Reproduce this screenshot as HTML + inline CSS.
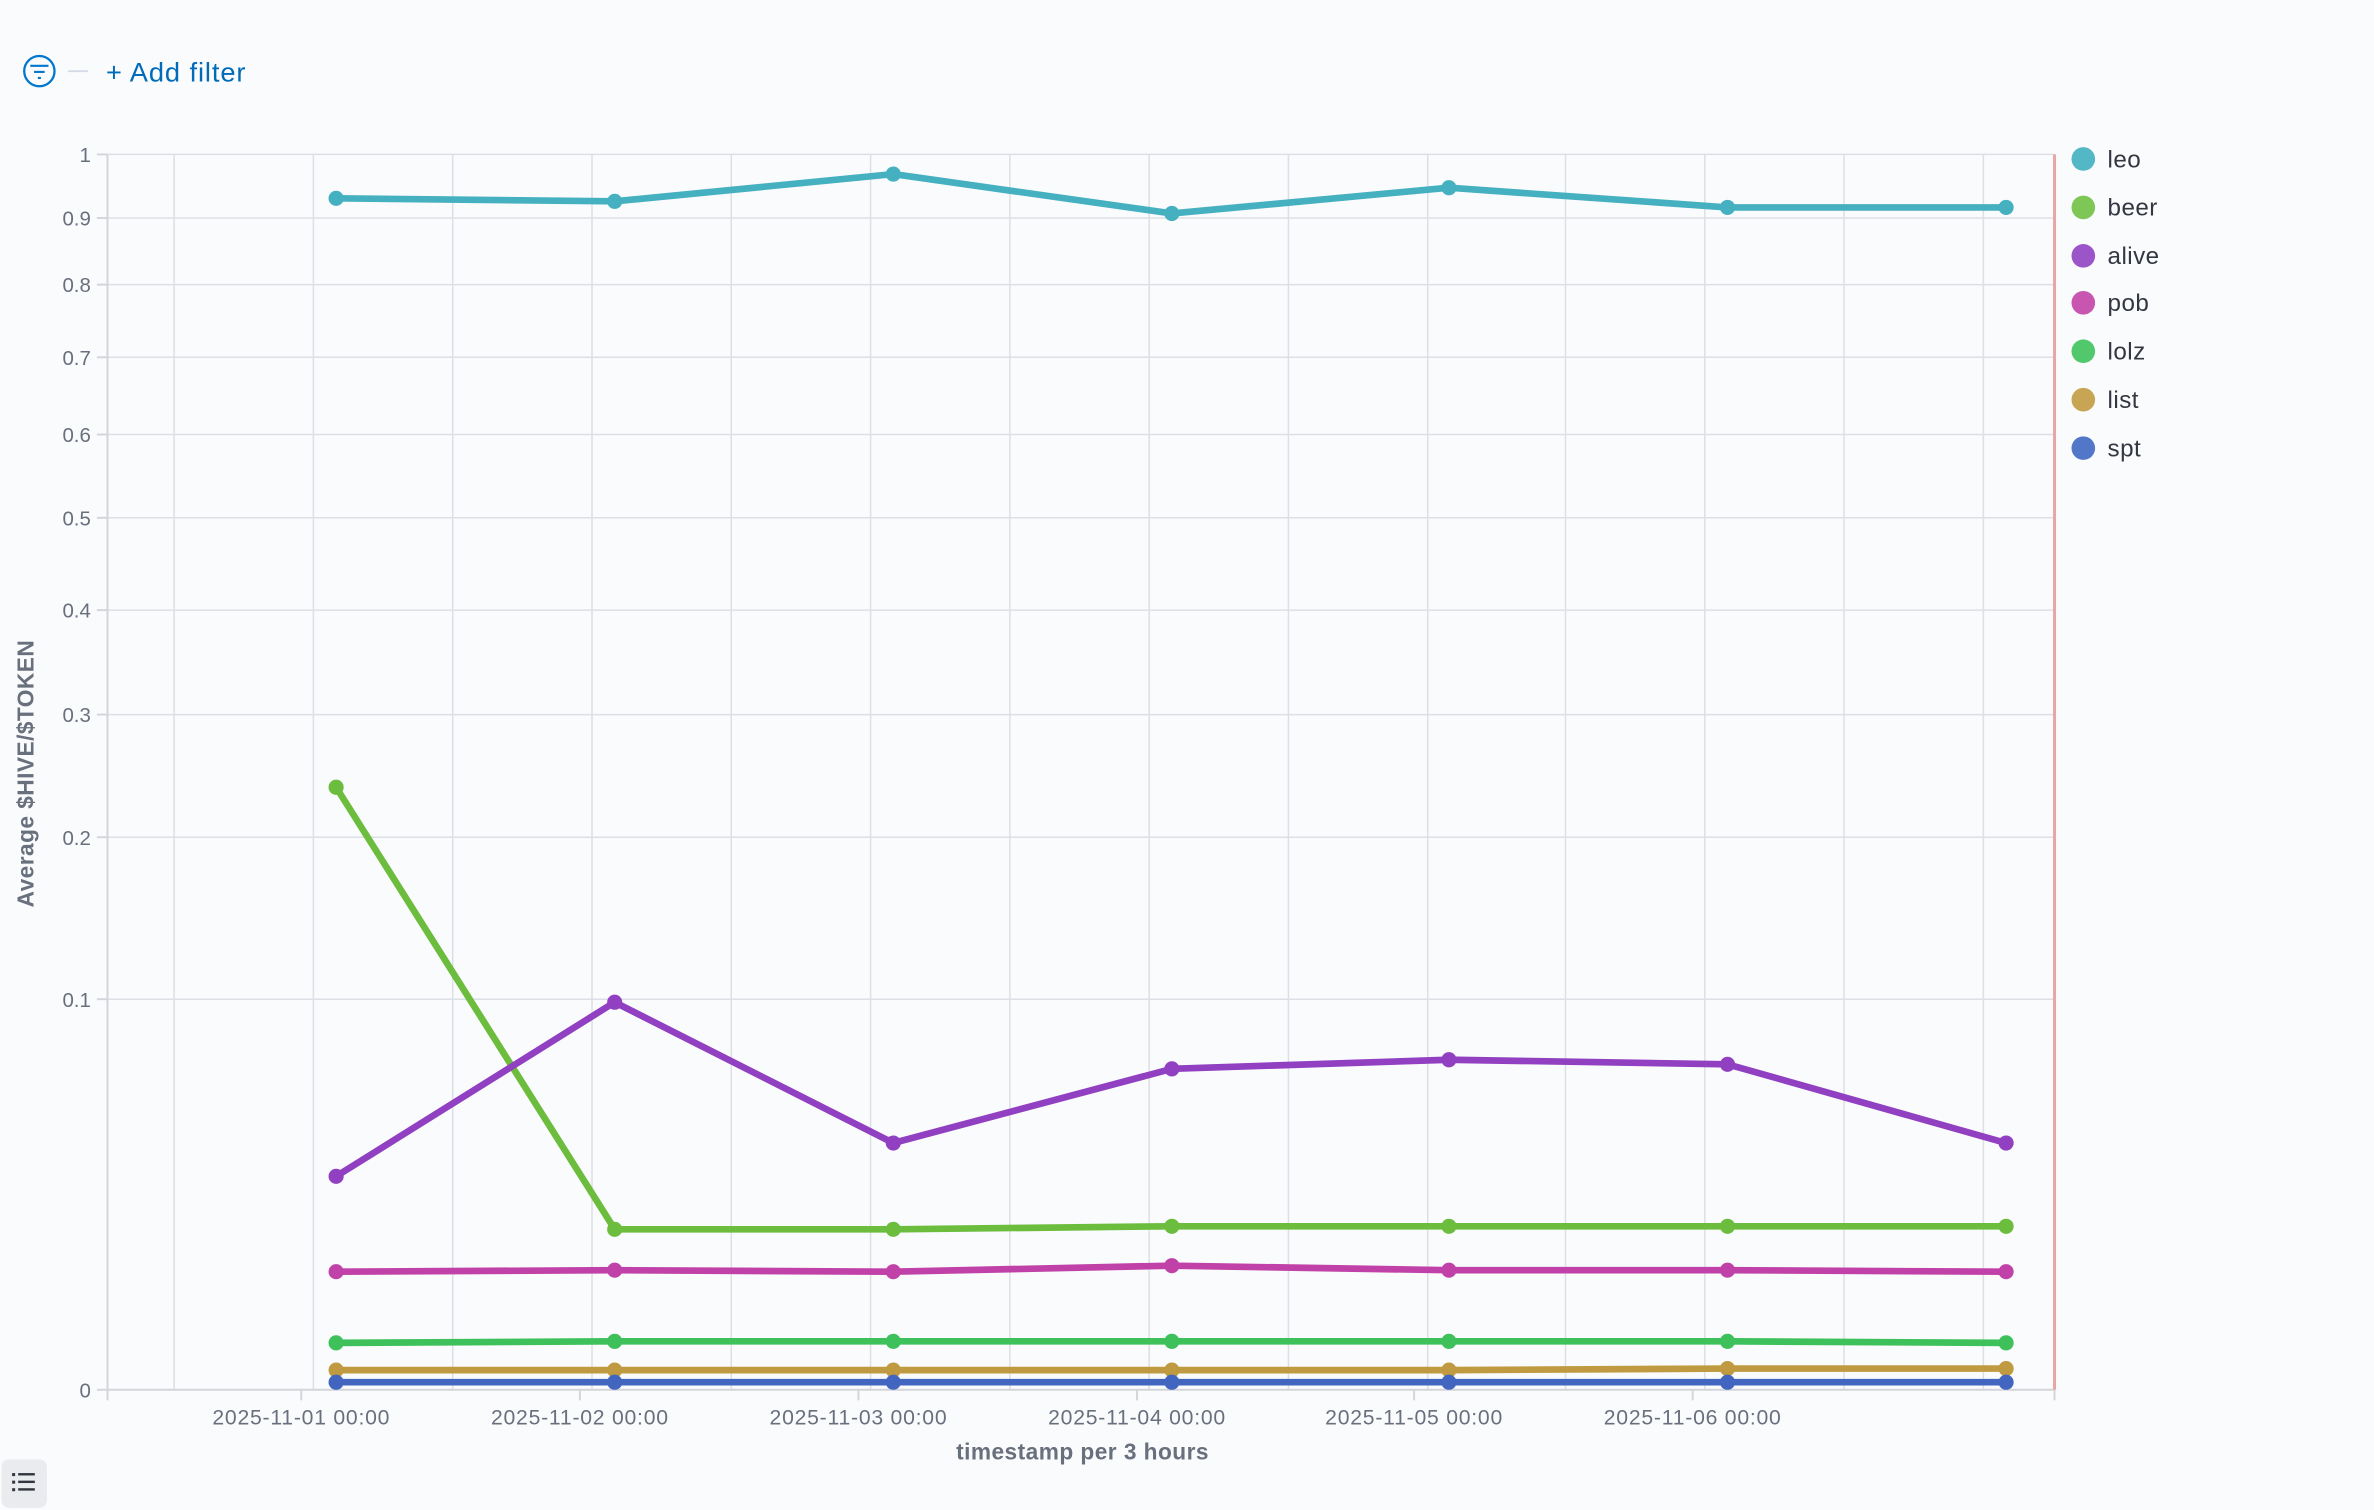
<!DOCTYPE html>
<html><head><meta charset="utf-8"><style>
html,body{margin:0;padding:0;background:#fafbfd;width:2374px;height:1510px;overflow:hidden}
svg{display:block}
text{font-family:"Liberation Sans",sans-serif}
</style></head><body>
<svg width="2374" height="1510" viewBox="0 0 1568 997.4" preserveAspectRatio="none">
<rect width="1568" height="998" fill="#fafbfd"/>
<!-- filter bar -->
<circle cx="26" cy="47" r="10" fill="none" stroke="#0077cc" stroke-width="1.5"/>
<line x1="20" y1="43.5" x2="32" y2="43.5" stroke="#0077cc" stroke-width="1.4"/>
<line x1="22.5" y1="47.5" x2="29.5" y2="47.5" stroke="#0077cc" stroke-width="1.4"/>
<line x1="25" y1="51.5" x2="27" y2="51.5" stroke="#0077cc" stroke-width="1.4"/>
<line x1="45" y1="47" x2="58" y2="47" stroke="#d3dae6" stroke-width="1.2"/>
<text x="70" y="54" font-size="18" letter-spacing="0.6" fill="#006bb8">+ Add filter</text>
<!-- grid -->
<g stroke="#dcdfe5" stroke-width="1">
<line x1="71" y1="102" x2="1357" y2="102"/>
<line x1="71" y1="144" x2="1357" y2="144"/>
<line x1="71" y1="188" x2="1357" y2="188"/>
<line x1="71" y1="236" x2="1357" y2="236"/>
<line x1="71" y1="287" x2="1357" y2="287"/>
<line x1="71" y1="342" x2="1357" y2="342"/>
<line x1="71" y1="403" x2="1357" y2="403"/>
<line x1="71" y1="472" x2="1357" y2="472"/>
<line x1="71" y1="553" x2="1357" y2="553"/>
<line x1="71" y1="660" x2="1357" y2="660"/>
<line x1="115" y1="102" x2="115" y2="918"/>
<line x1="207" y1="102" x2="207" y2="918"/>
<line x1="299" y1="102" x2="299" y2="918"/>
<line x1="391" y1="102" x2="391" y2="918"/>
<line x1="483" y1="102" x2="483" y2="918"/>
<line x1="575" y1="102" x2="575" y2="918"/>
<line x1="667" y1="102" x2="667" y2="918"/>
<line x1="759" y1="102" x2="759" y2="918"/>
<line x1="851" y1="102" x2="851" y2="918"/>
<line x1="943" y1="102" x2="943" y2="918"/>
<line x1="1034" y1="102" x2="1034" y2="918"/>
<line x1="1126" y1="102" x2="1126" y2="918"/>
<line x1="1218" y1="102" x2="1218" y2="918"/>
<line x1="1310" y1="102" x2="1310" y2="918"/>
</g>
<g stroke="#d3d5da" stroke-width="1.3">
<line x1="71" y1="102" x2="71" y2="925"/>
<line x1="64" y1="918" x2="1357" y2="918"/>
<line x1="199" y1="918" x2="199" y2="925"/>
<line x1="383" y1="918" x2="383" y2="925"/>
<line x1="567" y1="918" x2="567" y2="925"/>
<line x1="751" y1="918" x2="751" y2="925"/>
<line x1="934" y1="918" x2="934" y2="925"/>
<line x1="1118" y1="918" x2="1118" y2="925"/>
<line x1="1357" y1="918" x2="1357" y2="925"/>
<line x1="64" y1="102" x2="71" y2="102"/><line x1="64" y1="144" x2="71" y2="144"/><line x1="64" y1="188" x2="71" y2="188"/><line x1="64" y1="236" x2="71" y2="236"/><line x1="64" y1="287" x2="71" y2="287"/><line x1="64" y1="342" x2="71" y2="342"/><line x1="64" y1="403" x2="71" y2="403"/><line x1="64" y1="472" x2="71" y2="472"/><line x1="64" y1="553" x2="71" y2="553"/><line x1="64" y1="660" x2="71" y2="660"/>
</g>
<line x1="1357" y1="102" x2="1357" y2="918" stroke="#e7a6a6" stroke-width="2"/>
<!-- y labels -->
<g font-size="13.5" fill="#69707d" text-anchor="end">
<text x="60" y="107">1</text><text x="60" y="149">0.9</text><text x="60" y="193">0.8</text><text x="60" y="241">0.7</text><text x="60" y="292">0.6</text><text x="60" y="347">0.5</text><text x="60" y="408">0.4</text><text x="60" y="477">0.3</text><text x="60" y="558">0.2</text><text x="60" y="665">0.1</text><text x="60" y="923">0</text>
</g>
<g font-size="14" letter-spacing="0.5" fill="#69707d" text-anchor="middle">
<text x="199" y="941">2025-11-01 00:00</text><text x="383" y="941">2025-11-02 00:00</text><text x="567" y="941">2025-11-03 00:00</text><text x="751" y="941">2025-11-04 00:00</text><text x="934" y="941">2025-11-05 00:00</text><text x="1118" y="941">2025-11-06 00:00</text>
</g>
<text x="715" y="964" font-size="15" font-weight="bold" letter-spacing="0.3" fill="#69707d" text-anchor="middle">timestamp per 3 hours</text>
<text transform="translate(22,511) rotate(-90)" font-size="15" font-weight="bold" letter-spacing="0.3" fill="#69707d" text-anchor="middle">Average $HIVE/$TOKEN</text>
<!-- series -->
<g fill="none" stroke-width="4.4" stroke-linejoin="round">
<polyline stroke="#45b0c0" points="222,131 406,133 590,115 774,141 957,124 1141,137 1325,137"/>
<polyline stroke="#6cbd3e" points="222,520 406,812 590,812 774,810 957,810 1141,810 1325,810"/>
<polyline stroke="#9040c0" points="222,777 406,662 590,755 774,706 957,700 1141,703 1325,755"/>
<polyline stroke="#c042a8" points="222,840 406,839 590,840 774,836 957,839 1141,839 1325,840"/>
<polyline stroke="#3ec05a" points="222,887 406,886 590,886 774,886 957,886 1141,886 1325,887"/>
<polyline stroke="#c09a40" points="222,905 406,905 590,905 774,905 957,905 1141,904 1325,904"/>
<polyline stroke="#4266c0" points="222,913 406,913 590,913 774,913 957,913 1141,913 1325,913"/>
</g>
<g fill="#45b0c0"><circle cx="222" cy="131" r="5"/><circle cx="406" cy="133" r="5"/><circle cx="590" cy="115" r="5"/><circle cx="774" cy="141" r="5"/><circle cx="957" cy="124" r="5"/><circle cx="1141" cy="137" r="5"/><circle cx="1325" cy="137" r="5"/></g>
<g fill="#6cbd3e"><circle cx="222" cy="520" r="5"/><circle cx="406" cy="812" r="5"/><circle cx="590" cy="812" r="5"/><circle cx="774" cy="810" r="5"/><circle cx="957" cy="810" r="5"/><circle cx="1141" cy="810" r="5"/><circle cx="1325" cy="810" r="5"/></g>
<g fill="#9040c0"><circle cx="222" cy="777" r="5"/><circle cx="406" cy="662" r="5"/><circle cx="590" cy="755" r="5"/><circle cx="774" cy="706" r="5"/><circle cx="957" cy="700" r="5"/><circle cx="1141" cy="703" r="5"/><circle cx="1325" cy="755" r="5"/></g>
<g fill="#c042a8"><circle cx="222" cy="840" r="5"/><circle cx="406" cy="839" r="5"/><circle cx="590" cy="840" r="5"/><circle cx="774" cy="836" r="5"/><circle cx="957" cy="839" r="5"/><circle cx="1141" cy="839" r="5"/><circle cx="1325" cy="840" r="5"/></g>
<g fill="#3ec05a"><circle cx="222" cy="887" r="5"/><circle cx="406" cy="886" r="5"/><circle cx="590" cy="886" r="5"/><circle cx="774" cy="886" r="5"/><circle cx="957" cy="886" r="5"/><circle cx="1141" cy="886" r="5"/><circle cx="1325" cy="887" r="5"/></g>
<g fill="#c09a40"><circle cx="222" cy="905" r="5"/><circle cx="406" cy="905" r="5"/><circle cx="590" cy="905" r="5"/><circle cx="774" cy="905" r="5"/><circle cx="957" cy="905" r="5"/><circle cx="1141" cy="904" r="5"/><circle cx="1325" cy="904" r="5"/></g>
<g fill="#4266c0"><circle cx="222" cy="913" r="5"/><circle cx="406" cy="913" r="5"/><circle cx="590" cy="913" r="5"/><circle cx="774" cy="913" r="5"/><circle cx="957" cy="913" r="5"/><circle cx="1141" cy="913" r="5"/><circle cx="1325" cy="913" r="5"/></g>
<!-- legend -->
<g font-size="16" letter-spacing="0.3" fill="#343741">
<circle cx="1376" cy="105" r="7.8" fill="#54b7c6"/><text x="1392" y="110.5">leo</text>
<circle cx="1376" cy="137" r="7.8" fill="#7ec655"/><text x="1392" y="142.5">beer</text>
<circle cx="1376" cy="169" r="7.8" fill="#9c55c8"/><text x="1392" y="174.5">alive</text>
<circle cx="1376" cy="200" r="7.8" fill="#c855b0"/><text x="1392" y="205.5">pob</text>
<circle cx="1376" cy="232" r="7.8" fill="#52c86c"/><text x="1392" y="237.5">lolz</text>
<circle cx="1376" cy="264" r="7.8" fill="#c8a455"/><text x="1392" y="269.5">list</text>
<circle cx="1376" cy="296" r="7.8" fill="#5277c8"/><text x="1392" y="301.5">spt</text>
</g>
<!-- bottom-left button -->
<rect x="1" y="964" width="30" height="32" rx="5" fill="#e9ebef"/>
<g fill="#343741">
<rect x="8" y="973" width="2" height="2"/><rect x="12" y="973" width="11" height="1.6"/>
<rect x="8" y="978" width="2" height="2"/><rect x="12" y="978" width="11" height="1.6"/>
<rect x="8" y="983" width="2" height="2"/><rect x="12" y="983" width="11" height="1.6"/>
</g>
</svg>
</body></html>
